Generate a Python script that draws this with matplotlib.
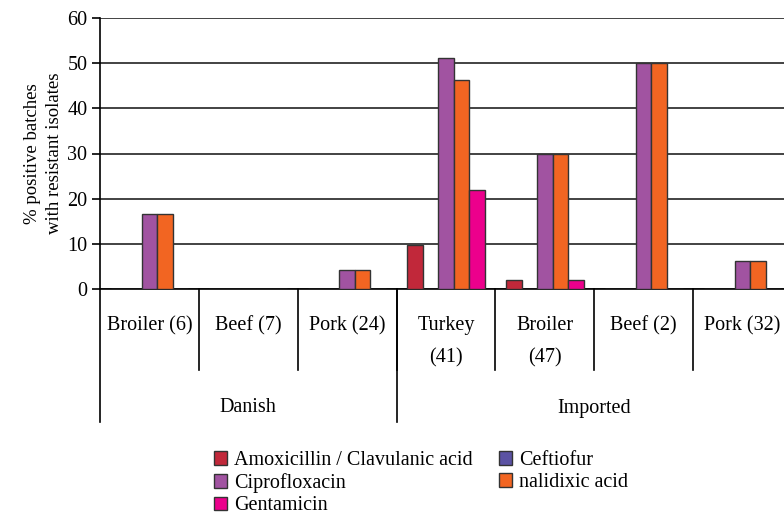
import matplotlib.pyplot as plt
import numpy as np

# Categories (origin / product with number of batches)
categories = ['Broiler (6)', 'Beef (7)', 'Pork (24)', 'Turkey\n(41)', 'Broiler\n(47)', 'Beef (2)', 'Pork (32)']
origins = ['Danish', 'Imported']
origin_counts = [3, 4]

# % positive batches with resistant isolates per antimicrobial
amoxicillin = [0, 0, 0, 9.8, 2.1, 0, 0]
ceftiofur = [0, 0, 0, 0, 0, 0, 0]
ciprofloxacin = [16.7, 0, 4.2, 51.2, 29.8, 50.0, 6.3]
nalidixic = [16.7, 0, 4.2, 46.3, 29.8, 50.0, 6.3]
gentamicin = [0, 0, 0, 22.0, 2.1, 0, 0]

series = [
    ('Amoxicillin / Clavulanic acid', amoxicillin, '#C1283A'),
    ('Ceftiofur', ceftiofur, '#5B52A3'),
    ('Ciprofloxacin', ciprofloxacin, '#A153A1'),
    ('nalidixic acid', nalidixic, '#F26522'),
    ('Gentamicin', gentamicin, '#EC008C'),
]

plt.rcParams['font.family'] = 'Liberation Serif'
fs = 14.5

fig = plt.figure(figsize=(7.84, 5.15), dpi=100)
ax = fig.add_axes([100 / 784, 226 / 515, 692 / 784, 271 / 515])

x = np.arange(len(categories))
w = 0.157
bars = {}
for i, (name, vals, color) in enumerate(series):
    bars[name] = ax.bar(x + (i - 2) * w, vals, w, color=color, edgecolor='#333333',
                        linewidth=1.0, label=name, zorder=3)

# Axis styling
ax.set_xlim(-0.5, len(categories) - 0.5)
ax.set_ylim(0, 60)
ax.set_yticks(np.arange(0, 61, 10))
ax.yaxis.grid(True, color='#222222', linewidth=1.2, zorder=0)
ax.set_axisbelow(True)
for s in ['top', 'right']:
    ax.spines[s].set_visible(False)
ax.spines['left'].set_linewidth(1.2)
ax.spines['bottom'].set_linewidth(1.2)
ax.tick_params(axis='y', length=6, width=1.2, direction='out', pad=3, labelsize=fs)
ax.set_xticks([])
ax.set_ylabel('% positive batches\nwith resistant isolates', fontsize=13.5, labelpad=3, linespacing=1.4)

# Multi-level category axis below the plot
trans = ax.get_xaxis_transform()
px = 1 / 271
for b in np.arange(0.5, len(categories) - 1, 1):
    ax.plot([b, b], [0, -81 * px], transform=trans, color='black', lw=1.2, clip_on=False)
bounds = np.concatenate([[0], np.cumsum(origin_counts)]) - 0.5
for b in bounds:
    ax.plot([b, b], [0, -133 * px], transform=trans, color='black', lw=1.2, clip_on=False)
for xi, lab in zip(x, categories):
    ax.text(xi, -27 * px, lab, transform=trans, ha='center', va='top', fontsize=fs,
            linespacing=1.9)
for k, lab in enumerate(origins):
    ax.text((bounds[k] + bounds[k + 1]) / 2, -119 * px, lab, transform=trans,
            ha='center', va='center', fontsize=fs)

# Legend: row order Amox, Ceftiofur / Cipro, nalidixic / Gentamicin
order = ['Amoxicillin / Clavulanic acid', 'Ciprofloxacin', 'Gentamicin', 'Ceftiofur', 'nalidixic acid']
fig.legend([bars[n] for n in order], order, ncol=2, loc='upper left',
           bbox_to_anchor=(214 / 784, 1 - 451 / 515), frameon=False, fontsize=fs,
           handlelength=0.65, handleheight=0.65, handletextpad=0.35,
           columnspacing=1.3, labelspacing=0.16, borderpad=0, borderaxespad=0)

plt.savefig('out.png', dpi=100)
